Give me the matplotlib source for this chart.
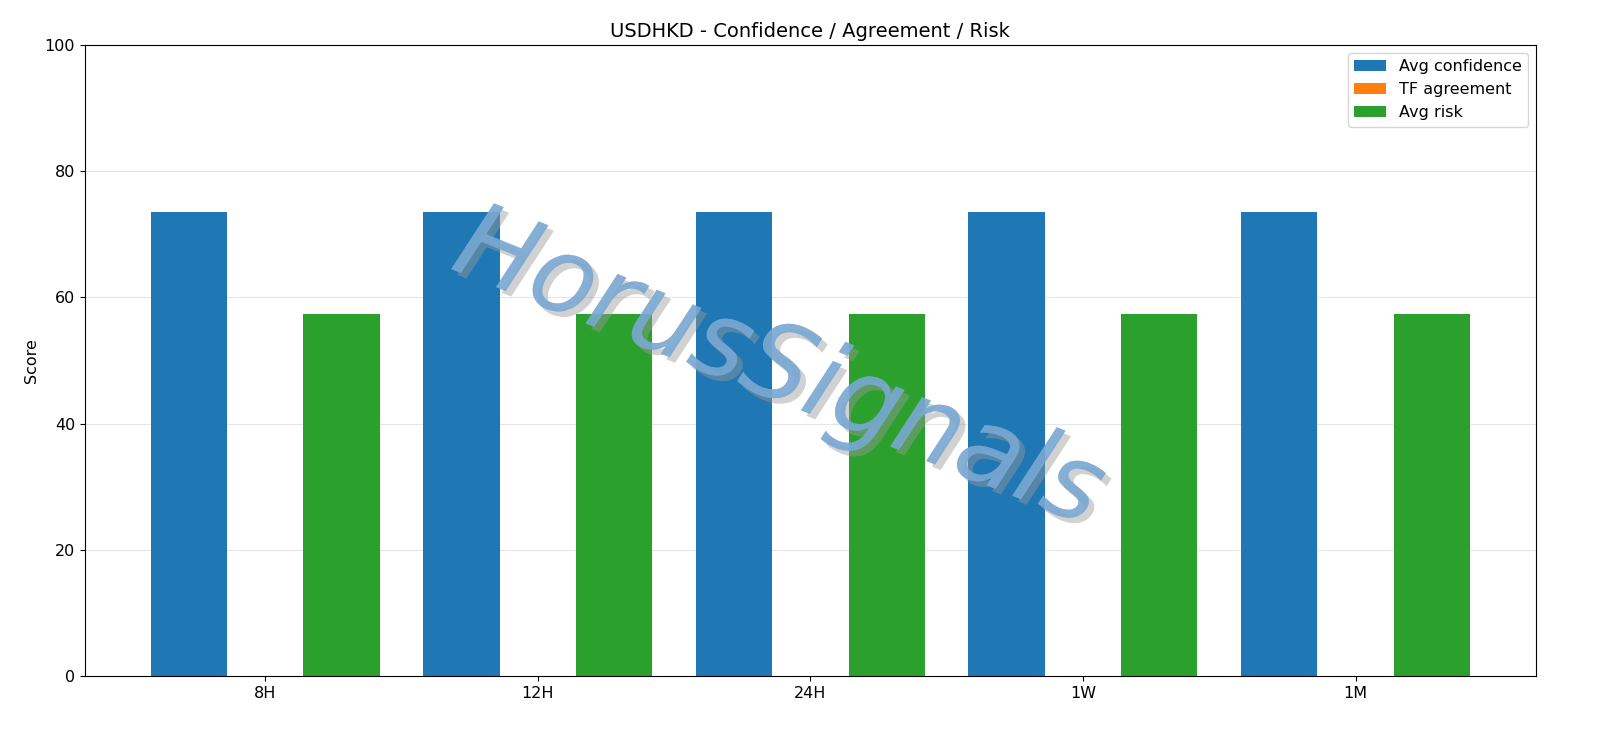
import matplotlib
matplotlib.use("Agg")
import matplotlib.pyplot as plt
import matplotlib.patheffects as pe
import numpy as np

categories = ["8H", "12H", "24H", "1W", "1M"]
avg_confidence = [73.5, 73.5, 73.5, 73.5, 73.5]
tf_agreement = [0, 0, 0, 0, 0]
avg_risk = [57.3, 57.3, 57.3, 57.3, 57.3]

plt.rcParams['font.size'] = 11.5
fig, ax = plt.subplots(figsize=(16, 7.38), dpi=100)
fig.subplots_adjust(left=0.053, right=0.96, top=0.939, bottom=0.084)
x = np.arange(len(categories))
w = 0.28
ax.bar(x - w, avg_confidence, w, label="Avg confidence", color="#1f77b4", zorder=2)
ax.bar(x, tf_agreement, w, label="TF agreement", color="#ff7f0e", zorder=2)
ax.bar(x + w, avg_risk, w, label="Avg risk", color="#2ca02c", zorder=2)
ax.set_xticks(x)
ax.set_xticklabels(categories)
ax.set_ylim(0, 100)
ax.set_ylabel("Score")
ax.set_title("USDHKD - Confidence / Agreement / Risk", fontsize=14)
ax.yaxis.grid(True, color="#e6e6e6", zorder=0)
ax.legend(loc="upper right", fontsize=11.5)
ax.text(0.478, 0.485, "HorusSignals", transform=ax.transAxes, fontsize=76,
        rotation=-22, ha="center", va="center", color="#7aa8d2", alpha=0.7,
        style="italic", zorder=5,
        path_effects=[pe.withSimplePatchShadow(offset=(4, -4), shadow_rgbFace="#999999", alpha=0.45), pe.Normal()])
fig.savefig("out.png", dpi=100)
